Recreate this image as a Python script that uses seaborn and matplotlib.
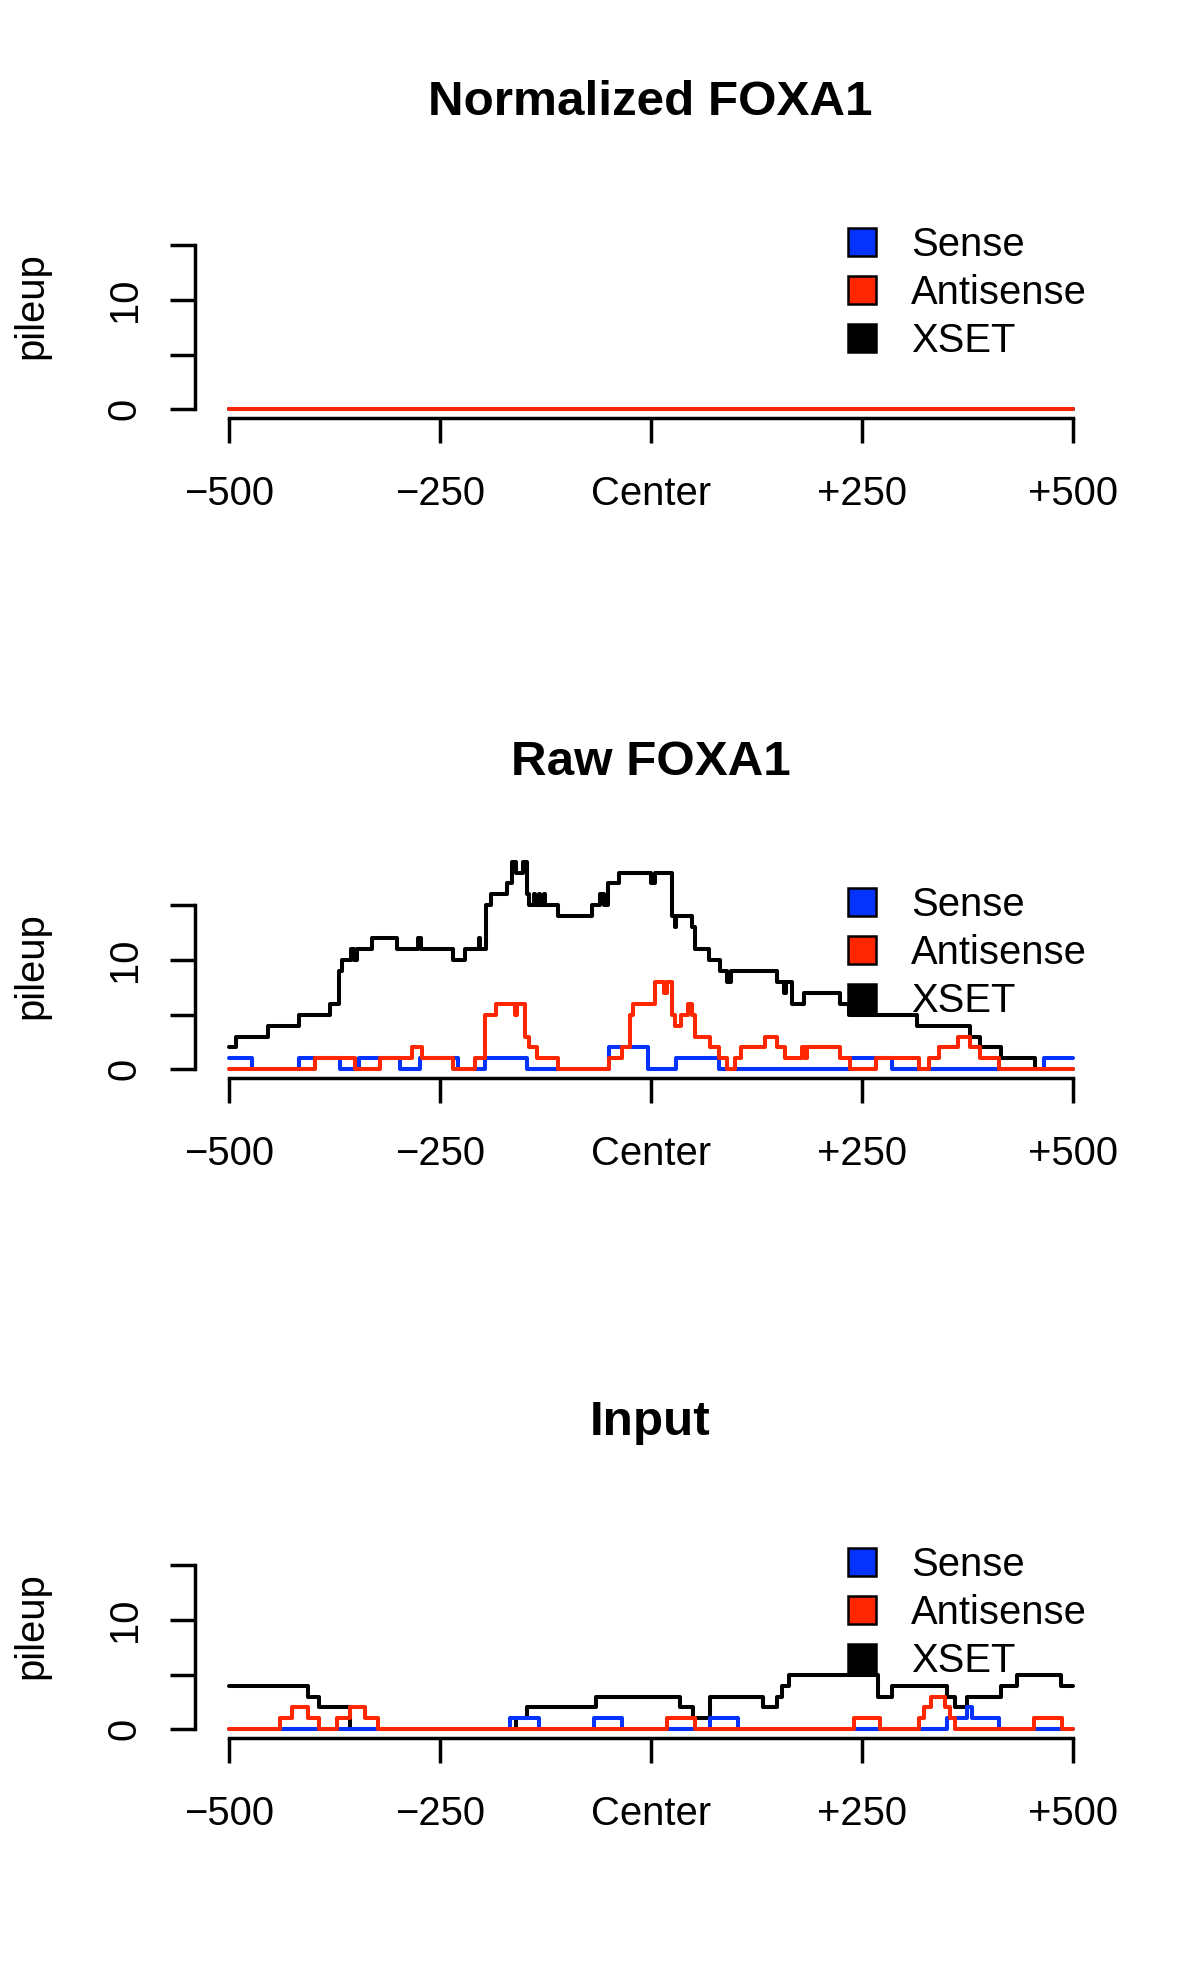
import numpy as np
import pandas as pd
import matplotlib
matplotlib.use('Agg')
import matplotlib.pyplot as plt
import seaborn as sns
from matplotlib.lines import Line2D

# step breakpoints (position, pileup) - value holds until next position
panel_titles = ['Normalized FOXA1', 'Raw FOXA1', 'Input']
series_names = ['Sense', 'Antisense', 'XSET']
tick_pos = [-500, -250, 0, 250, 500]
tick_labels = ['\u2212500', '\u2212250', 'Center', '+250', '+500']

# Normalized FOXA1: everything flat at zero
norm_sense_x = [-500]
norm_sense_y = [0]
norm_anti_x = [-500]
norm_anti_y = [0]
norm_xset_x = [-500]
norm_xset_y = [0]

# Raw FOXA1
raw_xset_x = [-500, -491, -454, -417, -380, -369, -366, -355, -352, -348, -330, -301, -276, -272,
              -234, -220, -204, -202, -198, -195, -190, -170, -165, -160, -151, -147, -145, -139,
              -137, -133, -131, -127, -125, -110, -70, -60, -56, -51, -38, 0, 5, 25, 28, 30, 48,
              52, 69, 82, 90, 95, 149, 157, 160, 167, 181, 224, 234, 315, 378, 390, 414, 455]
raw_xset_y = [2, 3, 4, 5, 6, 9, 10, 11, 10, 11, 12, 11, 12, 11,
              10, 11, 12, 11, 11, 15, 16, 17, 19, 18, 19, 16, 15, 16,
              15, 16, 15, 16, 15, 14, 15, 16, 15, 17, 18, 17, 18, 14, 13, 14, 13,
              11, 10, 9, 8, 9, 8, 7, 8, 6, 7, 6, 5, 4, 3, 2, 1, 0]
raw_sense_x = [-500, -473, -417, -368, -346, -297, -273, -228, -196, -147, -50, -3, 30, 80,
               236, 285, 465]
raw_sense_y = [1, 0, 1, 0, 1, 0, 1, 0, 1, 0, 2, 0, 1, 0, 1, 0, 1]
raw_anti_x = [-500, -398, -350, -321, -283, -271, -234, -208, -196, -184, -161, -159, -149, -145,
              -135, -110, -50, -34, -25, -21, 5, 15, 19, 25, 28, 36, 44, 48, 52, 70, 81, 90,
              100, 107, 135, 149, 159, 179, 182, 185, 224, 236, 267, 317, 329, 341, 364, 378,
              390, 412]
raw_anti_y = [0, 1, 0, 1, 2, 1, 0, 1, 5, 6, 5, 6, 3, 2,
              1, 0, 1, 2, 5, 6, 8, 7, 8, 5, 4, 5, 6, 5, 3, 2, 1, 0,
              1, 2, 3, 2, 1, 2, 1, 2, 1, 0, 1, 0, 1, 2, 3, 2,
              1, 0]

# Input
inp_xset_x = [-500, -406, -393, -356, -160, -147, -65, 34, 50, 70, 133, 149, 155, 163, 269, 285,
              350, 360, 374, 415, 433, 485]
inp_xset_y = [4, 3, 2, 0, 1, 2, 3, 2, 1, 3, 2, 3, 4, 5, 3, 4,
              3, 2, 3, 4, 5, 4]
inp_sense_x = [-500, -167, -133, -68, -34, 70, 103, 350, 374, 380, 412]
inp_sense_y = [0, 1, 0, 1, 0, 1, 0, 1, 2, 1, 0]
inp_anti_x = [-500, -439, -425, -406, -393, -372, -356, -339, -323, 19, 52, 240, 271, 317, 323,
              331, 348, 354, 360, 453, 487]
inp_anti_y = [0, 1, 2, 1, 0, 1, 2, 1, 0, 1, 0, 1, 0, 1, 2,
              3, 2, 1, 0, 1, 0]

panels = [
    (norm_xset_x, norm_xset_y, norm_sense_x, norm_sense_y, norm_anti_x, norm_anti_y),
    (raw_xset_x, raw_xset_y, raw_sense_x, raw_sense_y, raw_anti_x, raw_anti_y),
    (inp_xset_x, inp_xset_y, inp_sense_x, inp_sense_y, inp_anti_x, inp_anti_y),
]

col_sense = '#0433FF'
col_anti = '#FF2600'
col_xset = '#000000'


def step_frame(xs, ys):
    # close the last step at the right edge
    return pd.DataFrame({'pos': list(xs) + [500], 'pileup': list(ys) + [ys[-1]]})


sns.set_theme(style='ticks')
plt.rcParams['font.family'] = ['Liberation Sans', 'DejaVu Sans']
plt.rcParams['text.color'] = 'black'
plt.rcParams['xtick.color'] = 'black'
plt.rcParams['ytick.color'] = 'black'
plt.rcParams['xtick.labelcolor'] = 'black'
plt.rcParams['ytick.labelcolor'] = 'black'

W, H = 1200, 1980
fig = plt.figure(figsize=(W / 100, H / 100), dpi=100)

ax_left, ax_w = 195, 912
ax_h = 224.3
fs = 28.8

for i, (title, data) in enumerate(zip(panel_titles, panels)):
    off = 660 * i
    bottom_px = 417.6 + off
    ax = fig.add_axes([ax_left / W, 1 - bottom_px / H, ax_w / W, ax_h / H])
    xx, xy, sx, sy, ax_x, ay = data
    for (px, py, c) in [(xx, xy, col_xset), (sx, sy, col_sense), (ax_x, ay, col_anti)]:
        sns.lineplot(data=step_frame(px, py), x='pos', y='pileup', drawstyle='steps-post',
                     estimator=None, sort=False, color=c, linewidth=2.9, ax=ax)
    ax.set_xlim(-540, 540)
    ax.set_ylim(-0.76, 19.76)
    ax.set_xlabel('')
    ax.set_ylabel('')
    ax.spines['top'].set_visible(False)
    ax.spines['right'].set_visible(False)
    ax.spines['left'].set_bounds(0, 15)
    ax.spines['bottom'].set_bounds(-500, 500)
    for s in ['left', 'bottom']:
        ax.spines[s].set_linewidth(2.5)
        ax.spines[s].set_color('black')
    ax.set_xticks(tick_pos, labels=tick_labels)
    ax.set_yticks([0, 5, 10, 15], labels=['0', '', '10', ''])
    ax.tick_params(axis='both', direction='out', length=18, width=2.5, colors='black',
                   labelsize=fs)
    ax.tick_params(axis='x', pad=23)
    ax.tick_params(axis='y', pad=19, labelrotation=90)
    plt.setp(ax.get_yticklabels(), va='center')

    handles = [Line2D([], [], marker='s', linestyle='', markersize=19.5, markerfacecolor=c,
                      markeredgecolor='black', markeredgewidth=1.8)
               for c in [col_sense, col_anti, col_xset]]
    ax.legend(handles, series_names, loc='upper left',
              bbox_to_anchor=((842 - ax_left) / ax_w, (bottom_px - (226 + off)) / ax_h),
              frameon=False, borderpad=0, borderaxespad=0, handlelength=1.0,
              handleheight=0.7, handletextpad=0.72, labelspacing=0.255, fontsize=fs)

    fig.text(650.5 / W, 1 - (102.5 + off) / H, title, ha='center', va='center',
             fontsize=35.6, fontweight='bold', color='black')
    fig.text(31 / W, 1 - (305.5 + off) / H, 'pileup', ha='center', va='center',
             rotation=90, fontsize=fs, color='black')

fig.savefig('out.png', dpi=100, facecolor='white')
